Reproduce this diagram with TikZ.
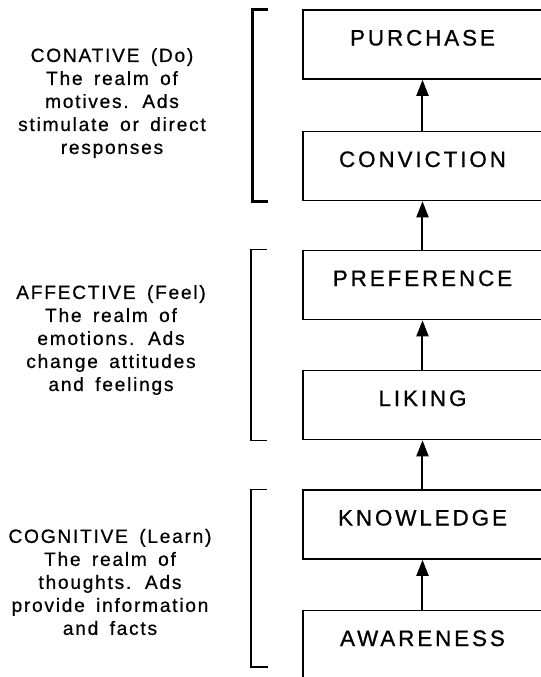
\documentclass[tikz,border=0pt]{standalone}
\usepackage{fontspec}
\setmainfont{Liberation Sans}
\newfontfamily\stagefont[LetterSpace=13,FakeBold=0.8]{Liberation Sans}
\newfontfamily\realmfont[LetterSpace=9,WordSpace=1.6,FakeBold=0.6]{Liberation Sans}
\usetikzlibrary{arrows.meta}

\tikzset{
  stage/.style={draw, line width=0.8pt, minimum width=119.5pt, minimum height=34.5pt,
    inner sep=0pt, text height=8pt, text depth=7pt,
    font=\stagefont\fontsize{11.2}{13}\selectfont},
  realm/.style={align=center, font=\realmfont\fontsize{9.6}{11.5}\selectfont},
  up/.style={line width=1pt, -{Triangle[width=6pt,length=8pt]}},
  bracket/.style={line width=0.7pt}
}

\begin{document}
\begin{tikzpicture}[x=0.5pt, y=-0.5pt]
        \useasboundingbox (0,0) rectangle (541,677);
        \clip (0,0) rectangle (541,677);

        % Stages
        \node[stage] (purchase) at (422.5,44.5) {PURCHASE};
        \node[stage] (conviction) at (422.5,166) {CONVICTION};
        \node[stage] (preference) at (422.5,285) {PREFERENCE};
        \node[stage] (liking) at (422.5,405) {LIKING};
        \node[stage] (knowledge) at (422.5,524.5) {KNOWLEDGE};
        \node[stage] (awareness) at (422.5,645) {AWARENESS};

        % Steps up
        \draw[up] (awareness.north) -- (knowledge.south);
        \draw[up] (knowledge.north) -- (liking.south);
        \draw[up] (liking.north) -- (preference.south);
        \draw[up] (preference.north) -- (conviction.south);
        \draw[up] (conviction.north) -- (purchase.south);

        % Realms
        \node[realm] (conative) at (112,103) {CONATIVE (Do)\\The realm of\\motives. Ads\\stimulate or direct\\responses};
        \node[realm] (affective) at (111,340) {AFFECTIVE (Feel)\\The realm of\\emotions. Ads\\change attitudes\\and feelings};
        \node[realm] (cognitive) at (110,582) {COGNITIVE (Learn)\\The realm of\\thoughts. Ads\\provide information\\and facts};

        % Brackets
        \draw[bracket, line width=1.5pt] ([xshift=-17pt]purchase.north west) -- ++(-8pt,0) |- ([xshift=-17pt]conviction.south west);
        \draw[bracket] ([xshift=-17.5pt]preference.north west) -- ++(-8pt,0) |- ([xshift=-17.5pt]liking.south west);
        \coordinate (learnend) at (268,667);
        \draw[bracket] ([xshift=-17.5pt]knowledge.north west) -- ++(-8pt,0) |- (learnend);
\end{tikzpicture}
\end{document}
